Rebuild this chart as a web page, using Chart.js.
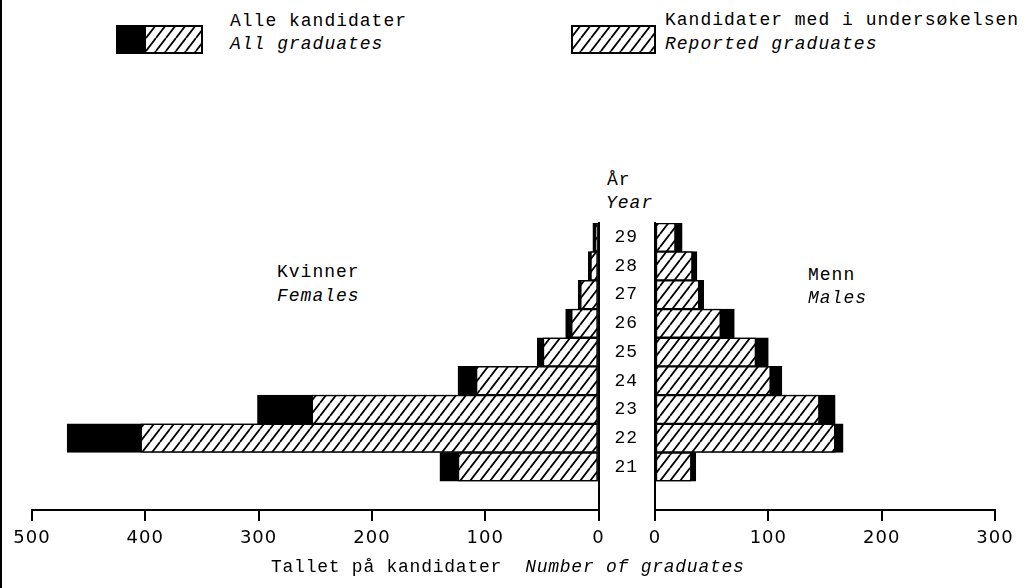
<!DOCTYPE html>
<html>
<head>
<meta charset="utf-8">
<title>Kandidater etter alder</title>
<script src="https://cdn.jsdelivr.net/npm/chart.js@4/dist/chart.umd.min.js"></script>
<style>
  body {
    margin: 0;
    background: #fff;
  }
  .page {
    position: relative;
    width: 1028px;
    height: 588px;
    overflow: hidden;
    font-family: "Liberation Mono", "DejaVu Sans Mono", monospace;
    font-size: 18px;
    color: #000;
    letter-spacing: 1px;
  }
  .page canvas.chart {
    position: absolute;
    left: 0;
    top: 0;
  }
  .txt {
    position: absolute;
    line-height: 24px;
    white-space: nowrap;
  }
  .txt i {
    font-style: italic;
  }
  .swatch {
    position: absolute;
  }
  .edge {
    position: absolute;
    left: 0;
    top: 0;
    width: 2px;
    height: 588px;
    background: #000;
  }
</style>
</head>
<body>
<div class="page">
  <div class="edge"></div>

  <!-- legend -->
  <canvas class="swatch" id="swatch-all" width="87" height="29" style="left:116px;top:25px"></canvas>
  <div class="txt" style="left:230px;top:9px">Alle kandidater</div>
  <div class="txt" style="left:230px;top:32px"><i>All graduates</i></div>

  <canvas class="swatch" id="swatch-reported" width="85" height="29" style="left:571px;top:25px"></canvas>
  <div class="txt" style="left:665px;top:8px">Kandidater med i undersøkelsen</div>
  <div class="txt" style="left:665px;top:32px"><i>Reported graduates</i></div>

  <!-- labels in the plot -->
  <div class="txt" style="left:607px;top:168px">År</div>
  <div class="txt" style="left:606px;top:191px"><i>Year</i></div>
  <div class="txt" style="left:277px;top:260px">Kvinner</div>
  <div class="txt" style="left:277px;top:284px"><i>Females</i></div>
  <div class="txt" style="left:808px;top:263px">Menn</div>
  <div class="txt" style="left:808px;top:286px"><i>Males</i></div>

  <canvas class="chart" id="female-canvas" width="1028" height="588"></canvas>
  <canvas class="chart" id="male-canvas" width="1028" height="588"></canvas>

  <div class="txt" style="left:271px;top:555px;letter-spacing:0.75px">Tallet på kandidater&nbsp; <i>Number of graduates</i></div>
</div>

<script>
  // Ages (top to bottom)
  let ages = ['29', '28', '27', '26', '25', '24', '23', '22', '21'];

  // Females: all graduates / reported graduates
  let females_all = [5, 9, 18, 29, 54, 124, 301, 469, 140];
  let females_reported = [3, 7, 16, 24, 49, 108, 253, 404, 124];

  // Males: all graduates / reported graduates
  let males_all = [24, 37, 43, 70, 100, 112, 159, 166, 36];
  let males_reported = [18, 33, 39, 58, 89, 102, 145, 159, 32];

  // Axis ticks
  let female_max = 500;
  let male_max = 300;
  let tick_step = 100;

  // one empty row under age 21
  let y_labels = ages.concat(['']);

  let tick_font = { family: '"DejaVu Sans", sans-serif', size: 18 };
  let age_font = { family: '"Liberation Mono", monospace', size: 18 };

  // Hatch pattern (white with "/" lines)
  let make_hatch = function(ctx) {
    let tile = document.createElement('canvas');
    tile.width = 10;
    tile.height = 13;
    let t = tile.getContext('2d');
    t.fillStyle = '#fff';
    t.fillRect(0, 0, 10, 13);
    t.strokeStyle = '#000';
    t.lineWidth = 1.8;
    t.beginPath();
    for (let k = -1; k <= 1; k++) {
      t.moveTo(k * 10, 13);
      t.lineTo(k * 10 + 10, 0);
    }
    t.stroke();
    return ctx.createPattern(tile, 'repeat');
  };

  // Legend swatches
  let sw1 = document.getElementById('swatch-all').getContext('2d');
  sw1.fillStyle = make_hatch(sw1);
  sw1.fillRect(0, 0, 87, 29);
  sw1.fillStyle = '#000';
  sw1.fillRect(0, 0, 30, 29);
  sw1.lineWidth = 2;
  sw1.strokeRect(1, 1, 85, 27);

  let sw2 = document.getElementById('swatch-reported').getContext('2d');
  sw2.fillStyle = make_hatch(sw2);
  sw2.fillRect(0, 0, 85, 29);
  sw2.lineWidth = 2;
  sw2.strokeRect(1, 1, 83, 27);

  // Common bar settings
  let bar_set = function(data, fill, order) {
    return {
      data: data,
      backgroundColor: fill,
      borderColor: '#000',
      borderWidth: 1.5,
      borderSkipped: false,
      grouped: false,
      order: order,
      barPercentage: 1,
      categoryPercentage: 1
    };
  };

  let x_axis = function(max, reverse) {
    return {
      type: 'linear',
      min: 0,
      max: max,
      reverse: reverse,
      ticks: { stepSize: tick_step, font: tick_font, color: '#000', padding: 7, maxRotation: 0 },
      grid: { drawOnChartArea: false, drawTicks: true, tickLength: 11, color: '#000', lineWidth: 2 },
      border: { display: true, color: '#000', width: 2 }
    };
  };

  // Females (left side, axis reversed)
  let female_ctx = document.getElementById('female-canvas').getContext('2d');
  let female_hatch = make_hatch(female_ctx);
  let female_chart = new Chart(female_ctx, {
    type: 'bar',
    data: {
      labels: y_labels,
      datasets: [
        bar_set(females_reported, female_hatch, 0),
        bar_set(females_all, '#000', 1)
      ]
    },
    options: {
      indexAxis: 'y',
      responsive: false,
      animation: false,
      layout: { padding: { left: 32, right: 1028 - 598.5, top: 223, bottom: 31.5 } },
      plugins: { legend: { display: false }, tooltip: { enabled: false } },
      scales: {
        x: x_axis(female_max, true),
        y: {
          position: 'right',
          ticks: { display: false },
          grid: { display: false, drawTicks: false },
          border: { display: true, color: '#000', width: 2 }
        }
      }
    }
  });

  // Males (right side), ages printed on its y axis
  let male_ctx = document.getElementById('male-canvas').getContext('2d');
  let male_hatch = make_hatch(male_ctx);
  let male_chart = new Chart(male_ctx, {
    type: 'bar',
    data: {
      labels: y_labels,
      datasets: [
        bar_set(males_reported, male_hatch, 0),
        bar_set(males_all, '#000', 1)
      ]
    },
    options: {
      indexAxis: 'y',
      responsive: false,
      animation: false,
      layout: { padding: { left: 598, right: 33, top: 223, bottom: 31.5 } },
      plugins: { legend: { display: false }, tooltip: { enabled: false } },
      scales: {
        x: x_axis(male_max, false),
        y: {
          position: 'left',
          afterFit: function(scale) { scale.width = 57; },
          ticks: { font: age_font, color: '#000', padding: 17, autoSkip: false },
          grid: { display: false, drawTicks: false },
          border: { display: true, color: '#000', width: 2 }
        }
      }
    }
  });
</script>
</body>
</html>
